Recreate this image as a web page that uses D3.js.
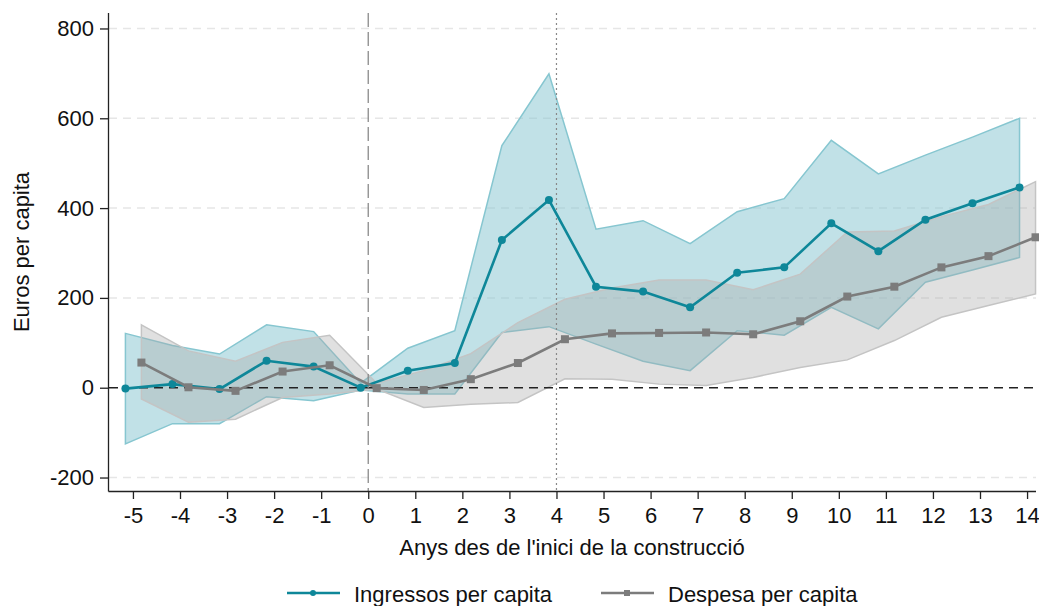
<!DOCTYPE html>
<html>
<head>
<meta charset="utf-8">
<script src="https://cdn.jsdelivr.net/npm/d3@7"></script>
<style>
  body { margin: 0; background: #fff; }
  svg text { font-family: "Liberation Sans", Arial, sans-serif; fill: #111; }
</style>
</head>
<body>
<svg></svg>
<script>
// anys relatius a l'inici de la construcció
let years = [-5,-4,-3,-2,-1,0,1,2,3,4,5,6,7,8,9,10,11,12,13,14];

let ingressos   = [-2, 8, -3, 60, 47, 0, 38, 55, 329, 418, 225, 214, 179, 256, 268, 366, 304, 374, 411, 446];
let ingressosHi = [121, 94, 75, 140, 125, 10, 88, 127, 539, 699, 353, 372, 321, 392, 421, 551, 476, 518, 558, 600];
let ingressosLo = [-125, -80, -80, -20, -29, -5, -14, -14, 123, 136, 97, 59, 38, 127, 117, 179, 131, 235, 262, 290];

let despesa   = [56, 1, -7, 36, 50, -1, -5, 19, 55, 108, 121, 122, 123, 119, 148, 203, 225, 268, 293, 335];
let despesaHi = [140, 82, 59, 101, 117, 10, 38, 76, 145, 197, 222, 240, 240, 218, 253, 347, 349, 381, 408, 459];
let despesaLo = [-25, -77, -70, -22, -14, -3, -44, -37, -33, 20, 19, 8, 5, 23, 45, 62, 105, 157, 183, 209];

let yTicks = [-200, 0, 200, 400, 600, 800];

let width = 1039;
let height = 606;

let svg = d3.select("svg").attr("width", width).attr("height", height);

let xScale = d3.scaleLinear().domain([-5.53, 14.19]).range([108, 1036]);
let yScale = d3.scaleLinear().domain([-230, 830]).range([491, 15]);

let tealOff = -0.16;
let grayOff = 0.18;

// gridlines
svg.append("g")
   .selectAll("line")
   .data(yTicks.filter(d => d !== 0))
   .enter()
   .append("line")
   .attr("x1", 109).attr("x2", 1036)
   .attr("y1", d => yScale(d)).attr("y2", d => yScale(d))
   .attr("stroke", "#e6e6e6")
   .attr("stroke-width", 1.5)
   .attr("stroke-dasharray", "8,6");

let rows = years.map((y, i) => ({
  year: y,
  ing: ingressos[i], ingHi: ingressosHi[i], ingLo: ingressosLo[i],
  des: despesa[i], desHi: despesaHi[i], desLo: despesaLo[i]
}));

let tealArea = d3.area()
   .x(d => xScale(d.year + tealOff))
   .y0(d => yScale(d.ingLo))
   .y1(d => yScale(d.ingHi));
let grayArea = d3.area()
   .x(d => xScale(d.year + grayOff))
   .y0(d => yScale(d.desLo))
   .y1(d => yScale(d.desHi));

svg.append("path")
   .datum(rows)
   .attr("d", tealArea)
   .attr("fill", "#84c4cf")
   .attr("fill-opacity", 0.5)
   .attr("stroke", "#86c6d0")
   .attr("stroke-width", 1.5);

svg.append("path")
   .datum(rows)
   .attr("d", grayArea)
   .attr("fill", "#a8a8a8")
   .attr("fill-opacity", 0.36)
   .attr("stroke", "#c4c4c4")
   .attr("stroke-width", 1.5);

// reference lines
svg.append("line")
   .attr("x1", 109).attr("x2", 1036)
   .attr("y1", yScale(0)).attr("y2", yScale(0))
   .attr("stroke", "#222")
   .attr("stroke-width", 1.6)
   .attr("stroke-dasharray", "9,6");

svg.append("line")
   .attr("x1", xScale(0)).attr("x2", xScale(0))
   .attr("y1", 13).attr("y2", 491)
   .attr("stroke", "#8a8a8a")
   .attr("stroke-width", 1.3)
   .attr("stroke-dasharray", "14,5");

svg.append("line")
   .attr("x1", xScale(4)).attr("x2", xScale(4))
   .attr("y1", 13).attr("y2", 491)
   .attr("stroke", "#888")
   .attr("stroke-width", 1.2)
   .attr("stroke-dasharray", "2,3");

// series lines
let tealLine = d3.line().x(d => xScale(d.year + tealOff)).y(d => yScale(d.ing));
let grayLine = d3.line().x(d => xScale(d.year + grayOff)).y(d => yScale(d.des));

svg.append("path")
   .datum(rows)
   .attr("d", tealLine)
   .attr("fill", "none")
   .attr("stroke", "#0e8799")
   .attr("stroke-width", 2.6);

svg.append("g")
   .selectAll("circle")
   .data(rows)
   .enter()
   .append("circle")
   .attr("cx", d => xScale(d.year + tealOff))
   .attr("cy", d => yScale(d.ing))
   .attr("r", 4)
   .attr("fill", "#0e8799");

svg.append("path")
   .datum(rows)
   .attr("d", grayLine)
   .attr("fill", "none")
   .attr("stroke", "#7c7c7c")
   .attr("stroke-width", 2.6);

svg.append("g")
   .selectAll("rect")
   .data(rows)
   .enter()
   .append("rect")
   .attr("x", d => xScale(d.year + grayOff) - 4)
   .attr("y", d => yScale(d.des) - 4)
   .attr("width", 8).attr("height", 8)
   .attr("fill", "#7c7c7c");

// axes (hyphen instead of unicode minus, like the original)
let fmt = d => String(d);
let xAxis = d3.axisBottom(xScale).tickValues(years).tickSize(8).tickPadding(8).tickFormat(fmt);
let yAxis = d3.axisLeft(yScale).tickValues(yTicks).tickSize(8).tickPadding(6).tickFormat(fmt);

let gx = svg.append("g")
   .attr("transform", "translate(0,491)")
   .call(xAxis);
gx.select(".domain").attr("d", "M108.5,0.5H1036").attr("stroke", "#222").attr("stroke-width", 1.3);
gx.selectAll(".tick line").attr("stroke", "#222").attr("stroke-width", 1.3);
gx.selectAll(".tick text").attr("font-size", 22).attr("fill", "#111");

let gy = svg.append("g")
   .attr("transform", "translate(108,0)")
   .call(yAxis);
gy.select(".domain").attr("d", "M0.5,13V491.5").attr("stroke", "#222").attr("stroke-width", 1.3);
gy.selectAll(".tick line").attr("stroke", "#222").attr("stroke-width", 1.3);
gy.selectAll(".tick text").attr("font-size", 22).attr("fill", "#111");

// titles
svg.append("text")
   .attr("x", 572).attr("y", 555)
   .attr("text-anchor", "middle")
   .attr("font-size", 22)
   .text("Anys des de l'inici de la construcció");

svg.append("text")
   .attr("transform", "translate(29,252) rotate(-90)")
   .attr("text-anchor", "middle")
   .attr("font-size", 22)
   .text("Euros per capita");

// legend
let legend = [
  { label: "Ingressos per capita", color: "#0e8799", x: 287, shape: "circle" },
  { label: "Despesa per capita", color: "#7c7c7c", x: 601, shape: "square" }
];
let lg = svg.append("g");
legend.forEach(l => {
  lg.append("line")
    .attr("x1", l.x).attr("x2", l.x + 53)
    .attr("y1", 593).attr("y2", 593)
    .attr("stroke", l.color).attr("stroke-width", 2.6);
  if (l.shape === "circle") {
    lg.append("circle").attr("cx", l.x + 26).attr("cy", 593).attr("r", 3).attr("fill", l.color);
  } else {
    lg.append("rect").attr("x", l.x + 23).attr("y", 590).attr("width", 6).attr("height", 6).attr("fill", l.color);
  }
  lg.append("text")
    .attr("x", l.x + 67).attr("y", 602)
    .attr("font-size", 22)
    .text(l.label);
});
</script>
</body>
</html>
